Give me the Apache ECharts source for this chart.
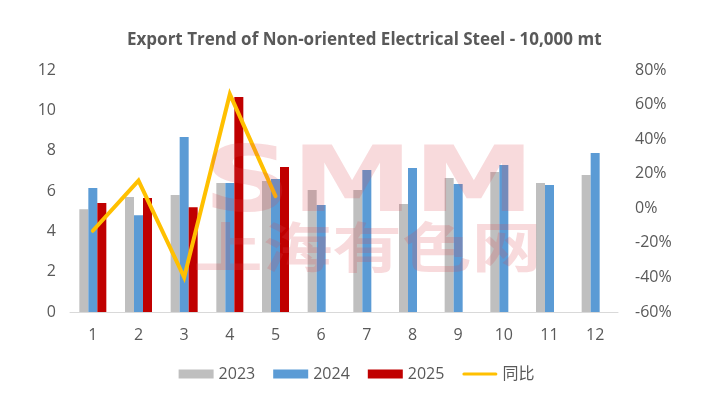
<!DOCTYPE html>
<html>
<head>
<meta charset="utf-8">
<script src="https://cdn.jsdelivr.net/npm/echarts@6/dist/echarts.min.js"></script>
<style>html,body{margin:0;padding:0;background:#fff}#c{width:713px;height:393px}</style>
</head>
<body>
<div id="c"></div>
<script>
const months = ['1','2','3','4','5','6','7','8','9','10','11','12'];
const exp2023 = [5.1, 5.7, 5.8, 6.4, 6.5, 6.05, 6.05, 5.35, 6.64, 6.94, 6.4, 6.79];
const exp2024 = [6.15, 4.8, 8.68, 6.4, 6.6, 5.3, 7.04, 7.14, 6.35, 7.29, 6.3, 7.88];
const exp2025 = [5.4, 5.65, 5.2, 10.66, 7.19, null, null, null, null, null, null, null];
const yoy = [-13, 16, -40, 66, 7, null, null, null, null, null, null, null];
const seriesNames = ['2023', '2024', '2025', '同比'];
const titleText = 'Export Trend of Non-oriented Electrical Steel - 10,000 mt';

const font = '"Open Sans", "Noto Sans", "Noto Sans CJK SC", sans-serif';
const txt = '#595959';
const chart = echarts.init(document.getElementById('c'));
chart.setOption({
  animation: false,
  title: {
    text: titleText, left: 122, top: 27,
    textStyle: { fontFamily: font, fontSize: 17, fontWeight: 'bold', color: txt }
  },
  legend: {
    bottom: 6, left: 'center', itemWidth: 35, itemHeight: 9, itemGap: 18,
    textStyle: { fontFamily: font, fontSize: 16, color: txt },
    data: [
      { name: seriesNames[0], icon: 'rect' },
      { name: seriesNames[1], icon: 'rect' },
      { name: seriesNames[2], icon: 'rect' },
      { name: seriesNames[3], icon: 'path://M1.5,0 H33.5 A1.5,1.5 0 0 1 33.5,3 H1.5 A1.5,1.5 0 0 1 1.5,0 Z' }
    ]
  },
  grid: { left: 70, right: 95, top: 70, bottom: 81 },
  xAxis: {
    type: 'category', data: months,
    axisLine: { lineStyle: { color: '#D9D9D9' } },
    axisTick: { show: false },
    axisLabel: { fontFamily: font, fontSize: 16, color: txt, margin: 15 }
  },
  yAxis: [
    {
      type: 'value', min: 0, max: 12, interval: 2,
      splitLine: { show: false },
      axisLabel: { fontFamily: font, fontSize: 16, color: txt, margin: 14 }
    },
    {
      type: 'value', min: -60, max: 80, interval: 20,
      splitLine: { show: false },
      axisLabel: { fontFamily: font, fontSize: 16, color: txt, margin: 17, formatter: '{value}%' }
    }
  ],
  series: [
    { name: seriesNames[0], type: 'bar', data: exp2023, barWidth: 9, barGap: '0%', itemStyle: { color: '#BFBFBF' } },
    { name: seriesNames[1], type: 'bar', data: exp2024, barWidth: 9, barGap: '0%', itemStyle: { color: '#5B9BD5' } },
    { name: seriesNames[2], type: 'bar', data: exp2025, barWidth: 9, barGap: '0%', itemStyle: { color: '#C00000' } },
    { name: seriesNames[3], type: 'line', yAxisIndex: 1, data: yoy, symbol: 'none', lineStyle: { color: '#FFC000', width: 4, cap: 'round', join: 'miter' }, itemStyle: { color: '#FFC000' } }
  ],
  graphic: [
    { type: 'text', x: 203, y: 143, scaleX: 1.36, z: 100, silent: true,
      style: { text: 'SMM', font: 'bold 90px "DejaVu Sans", sans-serif', fill: 'rgba(220,70,80,0.2)' } },
    { type: 'text', x: 193, y: 220, scaleX: 1.29, z: 100, silent: true,
      style: { text: '上海有色网', font: 'bold 54px "Noto Sans CJK SC", sans-serif', fill: 'rgba(220,70,80,0.2)' } }
  ]
});
</script>
</body>
</html>
